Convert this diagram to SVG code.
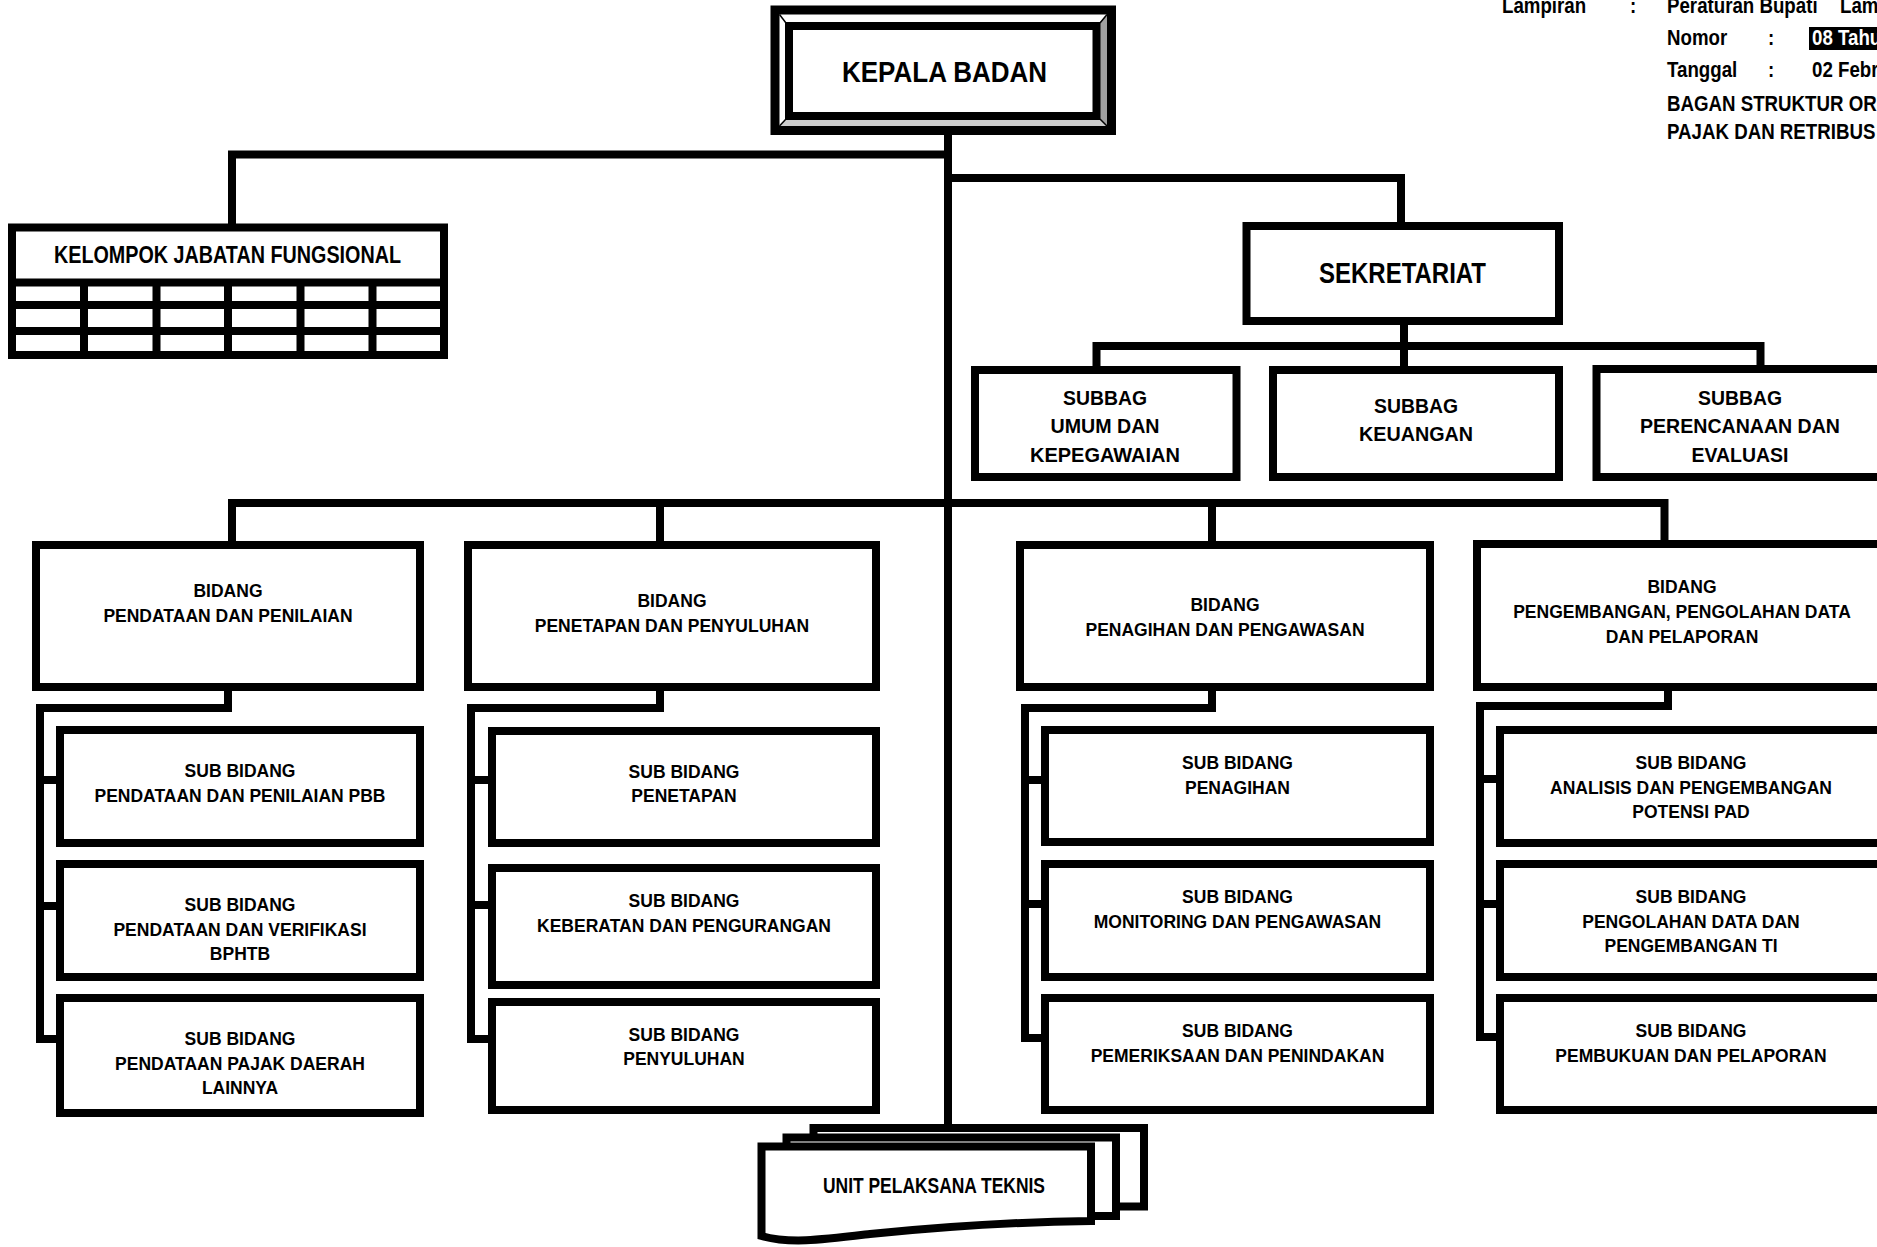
<svg xmlns="http://www.w3.org/2000/svg" width="1877" height="1247" viewBox="0 0 1877 1247">
<style>
.b{fill:#fff;stroke:#000;stroke-width:8}
.c{fill:none;stroke:#000;stroke-width:8;stroke-linecap:square;stroke-linejoin:miter}
.t{font-family:"Liberation Sans",Arial,sans-serif;font-weight:bold;font-size:17.5px;text-anchor:middle;fill:#000}
.n{font-family:"Liberation Sans",Arial,sans-serif;font-weight:bold;text-anchor:middle;fill:#000}
.h{font-family:"Liberation Sans",Arial,sans-serif;font-weight:bold;font-size:22px;fill:#000}
</style>
<rect width="1877" height="1247" fill="#fff"/>

<g id="header">
<text class="h" transform="translate(1502,13) scale(0.85,1)">Lampiran</text>
<text class="h" transform="translate(1630,13) scale(0.85,1)">:</text>
<text class="h" transform="translate(1667,13) scale(0.85,1)">Peraturan Bupati</text>
<text class="h" transform="translate(1840,13) scale(0.85,1)">Lam</text>
<text class="h" transform="translate(1667,45) scale(0.85,1)">Nomor</text>
<text class="h" transform="translate(1768,45) scale(0.85,1)">:</text>
<rect x="1809" y="27" width="70" height="23" fill="#000"/>
<text class="h" transform="translate(1812,45) scale(0.85,1)" style="fill:#fff">08 Tahu</text>
<text class="h" transform="translate(1667,77) scale(0.85,1)">Tanggal</text>
<text class="h" transform="translate(1768,77) scale(0.85,1)">:</text>
<text class="h" transform="translate(1812,77) scale(0.85,1)">02 Febr</text>
<text class="h" transform="translate(1667,111) scale(0.85,1)">BAGAN STRUKTUR OR</text>
<text class="h" transform="translate(1667,139) scale(0.85,1)">PAJAK DAN RETRIBUS</text>
</g>

<g id="connectors">
<path class="c" d="M948 130 V1124"/>
<path class="c" d="M948 154.5 H232 V223"/>
<path class="c" d="M948 178 H1401 V222"/>
<path class="c" d="M1404 325 V346 M1096.5 367 V346 H1760.5 V367 M1404 346 V367"/>
<path class="c" d="M232 541 V503 H1664.5 V541 M660 503 V541 M1212 503 V541"/>
<path class="c" d="M228 687 V708 H40 V1039 H60 M40 780 H60 M40 906 H60"/>
<path class="c" d="M660 687 V708 H471 V1039 H492 M471 780 H492 M471 905 H492"/>
<path class="c" d="M1212 687 V708 H1025 V1038 H1045 M1025 780 H1045 M1025 904 H1045"/>
<path class="c" d="M1668 687 V706 H1480 V1037 H1500 M1480 779 H1500 M1480 904 H1500"/>
</g>

<g id="kepala-badan">
<rect x="775" y="10" width="336.5" height="120.5" fill="#fff" stroke="#000" stroke-width="9"/>
<polygon points="1107,14.5 1100,22 1100,120 1107,126" fill="#a0a0a0"/>
<polygon points="779.5,126 785,120 1100,120 1107,126" fill="#cccccc"/>
<g stroke="#000" stroke-width="1.5">
<line x1="779.5" y1="14.5" x2="786" y2="23"/>
<line x1="1107" y1="14.5" x2="1100" y2="23"/>
<line x1="779.5" y1="126" x2="786" y2="119"/>
<line x1="1107" y1="126" x2="1100" y2="119"/>
</g>
<rect x="789" y="26" width="307.5" height="90" fill="#fff" stroke="#000" stroke-width="8"/>
<text class="n" x="944.5" y="82" font-size="30" textLength="205" lengthAdjust="spacingAndGlyphs">KEPALA BADAN</text>
</g>

<g id="kelompok-jabatan-fungsional">
<rect class="b" x="12" y="227.5" width="432" height="127.5"/>
<path class="c" style="stroke-linecap:butt" d="M12 282.5 H444 M12 305 H444 M12 331 H444 M84 282.5 V355 M156.5 282.5 V355 M228 282.5 V355 M300.5 282.5 V355 M372.5 282.5 V355"/>
<text class="n" x="227.5" y="263" font-size="23.5" textLength="347" lengthAdjust="spacingAndGlyphs">KELOMPOK JABATAN FUNGSIONAL</text>
</g>

<g id="sekretariat">
<rect class="b" x="1246.5" y="226" width="312.5" height="95"/>
<text class="n" x="1402.5" y="283" font-size="29" textLength="167" lengthAdjust="spacingAndGlyphs">SEKRETARIAT</text>
</g>

<g id="subbag-umum">
<rect class="b" x="975" y="370" width="261.5" height="107"/>
<text class="n" x="1105" y="405" font-size="21" textLength="84" lengthAdjust="spacingAndGlyphs">SUBBAG</text>
<text class="n" x="1105" y="433" font-size="21" textLength="109" lengthAdjust="spacingAndGlyphs">UMUM DAN</text>
<text class="n" x="1105" y="462" font-size="21" textLength="150" lengthAdjust="spacingAndGlyphs">KEPEGAWAIAN</text>
</g>

<g id="subbag-keuangan">
<rect class="b" x="1273" y="370" width="286" height="107"/>
<text class="n" x="1416" y="413" font-size="21" textLength="84" lengthAdjust="spacingAndGlyphs">SUBBAG</text>
<text class="n" x="1416" y="441" font-size="21" textLength="114" lengthAdjust="spacingAndGlyphs">KEUANGAN</text>
</g>

<g id="subbag-perencanaan">
<rect class="b" x="1596.5" y="369" width="300" height="108"/>
<text class="n" x="1740" y="405" font-size="21" textLength="84" lengthAdjust="spacingAndGlyphs">SUBBAG</text>
<text class="n" x="1740" y="433" font-size="21" textLength="200" lengthAdjust="spacingAndGlyphs">PERENCANAAN DAN</text>
<text class="n" x="1740" y="462" font-size="21" textLength="97" lengthAdjust="spacingAndGlyphs">EVALUASI</text>
</g>

<g id="bidang-pendataan">
<rect class="b" x="36" y="545" width="384" height="142"/>
<text class="t" x="228" y="597">BIDANG</text>
<text class="t" x="228" y="622">PENDATAAN DAN PENILAIAN</text>
</g>
<g id="bidang-penetapan">
<rect class="b" x="468" y="545" width="408" height="142"/>
<text class="t" x="672" y="607">BIDANG</text>
<text class="t" x="672" y="632">PENETAPAN DAN PENYULUHAN</text>
</g>
<g id="bidang-penagihan">
<rect class="b" x="1020" y="545" width="410" height="142"/>
<text class="t" x="1225" y="611">BIDANG</text>
<text class="t" x="1225" y="636">PENAGIHAN DAN PENGAWASAN</text>
</g>
<g id="bidang-pengembangan">
<rect class="b" x="1477" y="544" width="420" height="143"/>
<text class="t" x="1682" y="593">BIDANG</text>
<text class="t" x="1682" y="618">PENGEMBANGAN, PENGOLAHAN DATA</text>
<text class="t" x="1682" y="643">DAN PELAPORAN</text>
</g>

<g id="sub-pbb">
<rect class="b" x="60" y="730" width="360" height="113"/>
<text class="t" x="240" y="777">SUB BIDANG</text>
<text class="t" x="240" y="802">PENDATAAN DAN PENILAIAN PBB</text>
</g>
<g id="sub-bphtb">
<rect class="b" x="60" y="864" width="360" height="113"/>
<text class="t" x="240" y="911">SUB BIDANG</text>
<text class="t" x="240" y="936">PENDATAAN DAN VERIFIKASI</text>
<text class="t" x="240" y="960">BPHTB</text>
</g>
<g id="sub-pajak-lainnya">
<rect class="b" x="60" y="998" width="360" height="115"/>
<text class="t" x="240" y="1045">SUB BIDANG</text>
<text class="t" x="240" y="1070">PENDATAAN PAJAK DAERAH</text>
<text class="t" x="240" y="1094">LAINNYA</text>
</g>

<g id="sub-penetapan">
<rect class="b" x="492" y="731" width="384" height="112"/>
<text class="t" x="684" y="778">SUB BIDANG</text>
<text class="t" x="684" y="802">PENETAPAN</text>
</g>
<g id="sub-keberatan">
<rect class="b" x="492" y="868" width="384" height="117"/>
<text class="t" x="684" y="907">SUB BIDANG</text>
<text class="t" x="684" y="932">KEBERATAN DAN PENGURANGAN</text>
</g>
<g id="sub-penyuluhan">
<rect class="b" x="492" y="1002" width="384" height="108"/>
<text class="t" x="684" y="1041">SUB BIDANG</text>
<text class="t" x="684" y="1065">PENYULUHAN</text>
</g>

<g id="sub-penagihan">
<rect class="b" x="1045" y="730" width="385" height="112"/>
<text class="t" x="1237.5" y="769">SUB BIDANG</text>
<text class="t" x="1237.5" y="794">PENAGIHAN</text>
</g>
<g id="sub-monitoring">
<rect class="b" x="1045" y="864" width="385" height="113"/>
<text class="t" x="1237.5" y="903">SUB BIDANG</text>
<text class="t" x="1237.5" y="928">MONITORING DAN PENGAWASAN</text>
</g>
<g id="sub-pemeriksaan">
<rect class="b" x="1045" y="998" width="385" height="112"/>
<text class="t" x="1237.5" y="1037">SUB BIDANG</text>
<text class="t" x="1237.5" y="1062">PEMERIKSAAN DAN PENINDAKAN</text>
</g>

<g id="sub-analisis">
<rect class="b" x="1500" y="730" width="400" height="113"/>
<text class="t" x="1691" y="769">SUB BIDANG</text>
<text class="t" x="1691" y="794">ANALISIS DAN PENGEMBANGAN</text>
<text class="t" x="1691" y="818">POTENSI PAD</text>
</g>
<g id="sub-pengolahan">
<rect class="b" x="1500" y="864" width="400" height="113"/>
<text class="t" x="1691" y="903">SUB BIDANG</text>
<text class="t" x="1691" y="928">PENGOLAHAN DATA DAN</text>
<text class="t" x="1691" y="952">PENGEMBANGAN TI</text>
</g>
<g id="sub-pembukuan">
<rect class="b" x="1500" y="998" width="400" height="112"/>
<text class="t" x="1691" y="1037">SUB BIDANG</text>
<text class="t" x="1691" y="1062">PEMBUKUAN DAN PELAPORAN</text>
</g>

<g id="unit-pelaksana-teknis">
<rect class="b" x="813.5" y="1128" width="330.5" height="78.5"/>
<rect class="b" x="786.5" y="1137.5" width="329.5" height="78.5"/>
<path class="b" d="M761.5 1146.5 H1091 V1221 C1000 1222 930 1228 870 1234 C820 1240 790 1244 761.5 1236 Z"/>
<text class="n" x="934" y="1193" font-size="22" textLength="222" lengthAdjust="spacingAndGlyphs">UNIT PELAKSANA TEKNIS</text>
</g>
</svg>
